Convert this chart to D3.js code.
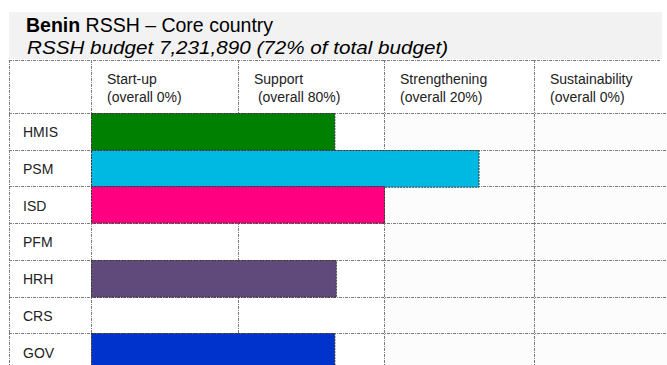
<!DOCTYPE html>
<html>
<head>
<meta charset="utf-8">
<script src="https://cdn.jsdelivr.net/npm/d3@7"></script>
<style>
  html, body { margin: 0; padding: 0; background: #fff; }
  svg { display: block; font-family: "Liberation Sans", Arial, sans-serif; }
</style>
</head>
<body>
<svg id="chart" width="667" height="365"></svg>
<script>
// RSSH maturity by module: each bar reaches the stage the module has attained
const country = "Benin";
const titleRest = "RSSH \u2013 Core country";
const subtitle = "RSSH budget 7,231,890 (72% of total budget)";

const stages = ["Start-up", "Support", "Strengthening", "Sustainability"];
const stageShares = ["(overall 0%)", " (overall 80%)", "(overall 20%)", "(overall 0%)"];

const modules = ["HMIS", "PSM", "ISD", "PFM", "HRH", "CRS", "GOV"];
// position along the stage axis (0 = start of Start-up, 4 = end of Sustainability)
const levels = [1.66, 2.63, 2.0, 0, 1.67, 0, 1.66];
const colors = ["#008000", "#00B9E3", "#FF0080", "#FFFFFF", "#604A7B", "#FFFFFF", "#0033CC"];

const svg = d3.select("#chart");

// layout
const labelLeft = 9;
const gridTop = 60;
const headerBottom = 113;
const rowHeight = 36.7;

// stage axis: stage boundaries on the horizontal
const x = d3.scaleLinear()
  .domain([0, 1, 2, 3, 4])
  .range([91, 238, 384, 534, 684]);

const y = d3.scaleBand()
  .domain(modules)
  .range([headerBottom, headerBottom + rowHeight * modules.length])
  .paddingInner(0).paddingOuter(0);

// title band
svg.append("rect")
  .attr("x", 9).attr("y", 12).attr("width", 653).attr("height", 47)
  .attr("fill", "#f2f2f2");

const title = svg.append("text")
  .attr("x", 26).attr("y", 32)
  .attr("font-size", 19.5).attr("fill", "#000");
title.append("tspan").attr("font-weight", "bold").text(country);
title.append("tspan").text(" " + titleRest);

// light fill behind the later-stage cells
svg.append("rect")
  .attr("x", x(2)).attr("y", headerBottom)
  .attr("width", 667 - x(2)).attr("height", y.range()[1] - headerBottom)
  .attr("fill", "#fcfcfc");

// grid
const grid = svg.append("g")
  .attr("stroke", "#7a7a7a")
  .attr("stroke-width", 1)
  .attr("stroke-dasharray", "3,1,1,1")
  .attr("fill", "none");

// horizontal lines: top of table and each row boundary
const hLines = [gridTop].concat(modules.map(m => y(m)));
grid.selectAll("line.h")
  .data(hLines)
  .join("line")
  .attr("class", "h")
  .attr("x1", labelLeft).attr("x2", (d, i) => i === 0 ? 660 : 667)
  .attr("y1", d => Math.round(d) + 0.5).attr("y2", d => Math.round(d) + 0.5);

// vertical lines: left border and stage boundaries
const vLines = [labelLeft, x(0), x(1), x(2), x(3)];
grid.selectAll("line.v")
  .data(vLines)
  .join("line")
  .attr("class", "v")
  .attr("x1", d => Math.round(d) + 0.5).attr("x2", d => Math.round(d) + 0.5)
  .attr("y1", gridTop).attr("y2", 365);

// bars sit over the grid
svg.append("g").selectAll("rect")
  .data(modules.map((m, i) => ({ m, v: levels[i], c: colors[i] })).filter(d => d.v > 0))
  .join("rect")
  .attr("x", Math.round(x(0)) + 0.5)
  .attr("y", d => Math.round(y(d.m)) + 0.5)
  .attr("width", d => x(d.v) - x(0))
  .attr("height", y.bandwidth())
  .attr("fill", d => d.c)
  .attr("stroke", "#333")
  .attr("stroke-width", 1)
  .attr("stroke-dasharray", "2,1");

// subtitle drawn over the top border
svg.append("text")
  .attr("x", 27).attr("y", 54)
  .attr("font-size", 18.5).attr("font-style", "italic").attr("fill", "#000")
  .attr("textLength", 421).attr("lengthAdjust", "spacingAndGlyphs")
  .text(subtitle);

// stage headers
const head = svg.append("g").attr("font-size", 14).attr("fill", "#222");
stages.forEach((s, i) => {
  const t = head.append("text").attr("x", x(i) + 16).attr("y", 84);
  t.append("tspan").text(s);
  t.append("tspan").attr("x", x(i) + 16).attr("y", 102).attr("xml:space", "preserve").style("white-space", "pre").text(stageShares[i]);
});

// module labels
svg.append("g").attr("font-size", 14).attr("fill", "#222")
  .selectAll("text")
  .data(modules)
  .join("text")
  .attr("x", 23)
  .attr("y", d => y(d) + y.bandwidth() / 2 + 6)
  .text(d => d);
</script>
</body>
</html>
